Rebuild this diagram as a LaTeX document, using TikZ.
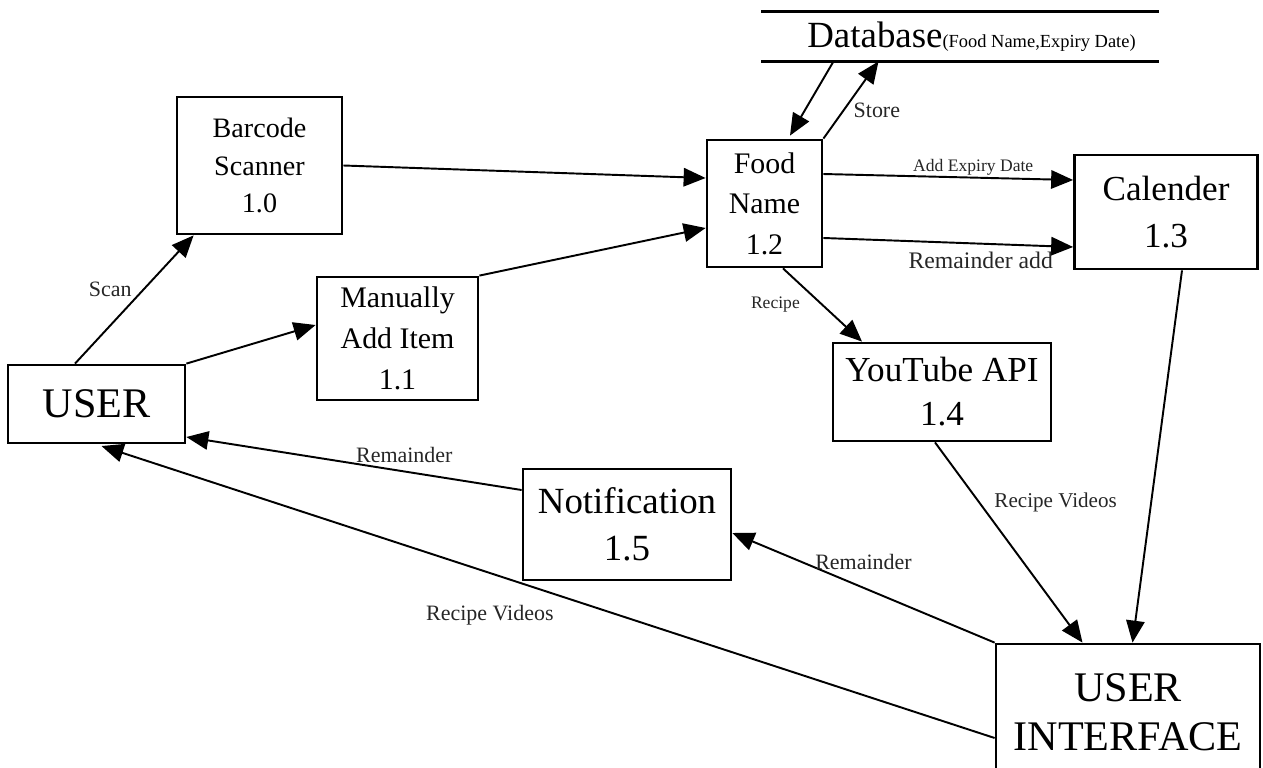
\documentclass[tikz,border=0pt]{standalone}
\usepackage{fontspec}
\setmainfont{Liberation Serif}
\usetikzlibrary{arrows.meta,positioning}

\begin{document}
\begin{tikzpicture}[x=0.02cm,y=-0.02cm,
    proc/.style={draw, line width=1.6pt, align=center, inner sep=0pt},
    flow/.style={line width=1.1pt, -{Triangle[length=12.5pt,width=10.5pt]}},
    lbl/.style={inner sep=1pt, text=black!85}]
  \useasboundingbox (0,0) rectangle (1263,767);

  \node[proc, minimum width=3.54cm, minimum height=1.56cm, font=\fontsize{24}{28}\selectfont] (user) at (96.5,404) {USER};
  \node[proc, minimum width=3.3cm, minimum height=2.74cm, font=\fontsize{16}{21.3}\selectfont] (scan) at (259.5,165.5) {Barcode\\Scanner\\1.0};
  \node[proc, minimum width=3.22cm, minimum height=2.46cm, font=\fontsize{17}{23.5}\selectfont] (manual) at (397.5,338.5) {Manually\\Add Item\\1.1};
  \node[proc, minimum width=2.3cm, minimum height=2.54cm, font=\fontsize{17}{23}\selectfont] (food) at (764.5,203.5) {Food\\Name\\1.2};
  \node[proc, minimum width=3.66cm, minimum height=2.28cm, font=\fontsize{20}{26.5}\selectfont] (cal) at (1166,212) {Calender\\1.3};
  \node[proc, minimum width=4.36cm, minimum height=1.96cm, font=\fontsize{20}{25}\selectfont] (yt) at (942,392) {YouTube API\\1.4};
  \node[proc, minimum width=4.16cm, minimum height=2.22cm, font=\fontsize{21}{26.5}\selectfont] (notif) at (627,524.5) {Notification\\1.5};
  \node[proc, minimum width=5.28cm, minimum height=2.72cm, font=\fontsize{24}{28}\selectfont] (ui) at (1128,712) {USER\\INTERFACE};

  % data store
  \node[minimum width=7.94cm, minimum height=0.98cm, inner sep=0pt] (db) at (960,36.5)
    {\hspace{0.46cm}\fontsize{21}{25}\selectfont Database\fontsize{10.5}{12}\selectfont (Food Name,Expiry Date)};
  \draw[line width=1.6pt] (db.north west) -- (db.north east);
  \draw[line width=1.6pt] (db.south west) -- (db.south east);

  \draw[flow] ([xshift=-0.43cm]user.north) -- node[lbl, above left, font=\fontsize{12.5}{14}\selectfont] {Scan} ([xshift=0.36cm]scan.south west);
  \draw[flow] (user.north east) -- ([yshift=0.27cm]manual.west);
  \draw[flow] (scan.east) -- ([yshift=0.51cm]food.west);
  \draw[flow] (manual.north east) -- ([yshift=-0.49cm]food.west);
  \draw[flow] ([xshift=-2.53cm]db.south) -- ([xshift=0.51cm,yshift=0.06cm]food.north);
  \draw[flow] (food.north east) -- node[lbl, below right, font=\fontsize{12.5}{14}\selectfont] {Store} ([xshift=-1.63cm]db.south);
  \draw[flow] ([yshift=0.59cm]food.east) -- node[lbl, pos=0.6, above, font=\fontsize{10}{12}\selectfont] {Add Expiry Date} ([yshift=0.64cm]cal.west);
  \draw[flow] ([yshift=-0.69cm]food.east) -- node[lbl, pos=0.63, below=0.12cm, font=\fontsize{13.5}{16}\selectfont] {Remainder add} ([yshift=-0.7cm]cal.west);
  \draw[flow] ([xshift=0.37cm]food.south) -- node[lbl, left=0.4cm, font=\fontsize{10}{12}\selectfont] {Recipe} ([xshift=-1.6cm]yt.north);
  \draw[flow] ([xshift=0.32cm]cal.south) -- ([xshift=0.09cm]ui.north);
  \draw[flow] ([xshift=-0.14cm]yt.south) -- node[lbl, pos=0.3, right=0.25cm, font=\fontsize{12}{14}\selectfont] {Recipe Videos} ([xshift=-0.91cm]ui.north);
  \draw[flow] (ui.north west) -- node[lbl, above=0.3cm, font=\fontsize{12.5}{14}\selectfont] {Remainder} ([yshift=-0.17cm]notif.east);
  \draw[flow] ([yshift=0.69cm]notif.west) -- node[lbl, pos=0.35, above=0.12cm, font=\fontsize{12.5}{14}\selectfont] {Remainder} ([yshift=-0.66cm]user.east);
  \draw[flow, shorten >=3pt] ([yshift=-0.52cm]ui.west) -- node[lbl, pos=0.562, below=0.6cm, font=\fontsize{12.5}{14}\selectfont] {Recipe Videos} (user.south);
\end{tikzpicture}
\end{document}
